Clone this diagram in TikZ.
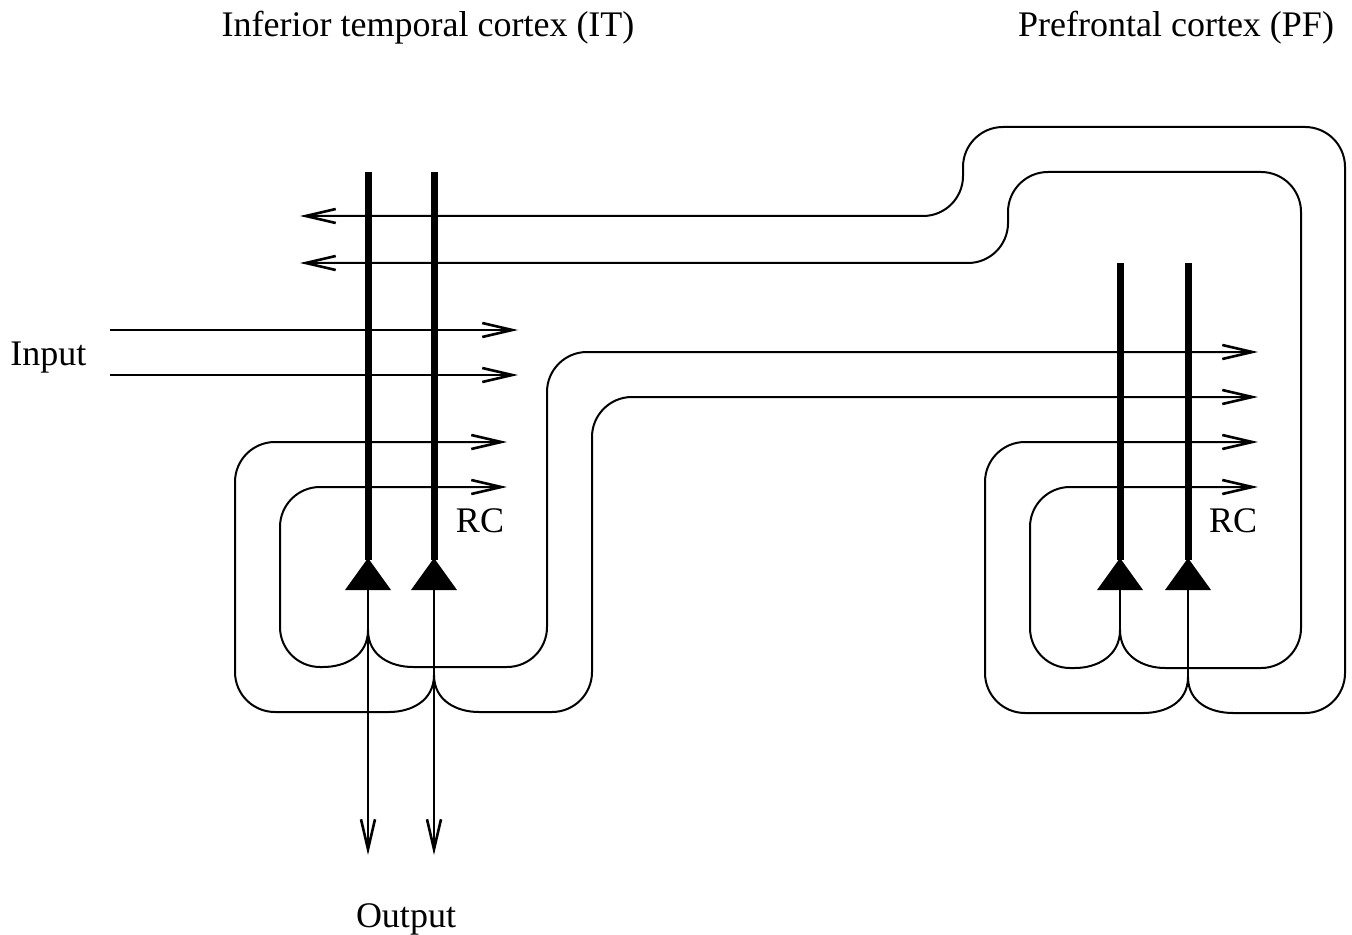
\documentclass[tikz,border=0pt]{standalone}
\usepackage{fontspec}
\setmainfont{Liberation Serif}
\usetikzlibrary{arrows.meta,calc}
\begin{document}
\begin{tikzpicture}[x=0.5pt,y=-0.5pt,
  fiber/.style={line width=1pt},
  arr/.style={fiber,-{Straight Barb[length=15pt,width=7pt,line width=1.3pt]}},
  dendrite/.style={line width=3.5pt},
  soma/.style={fill=black},
  lbl/.style={font=\fontsize{18pt}{20pt}\selectfont, inner sep=0pt},
  rc/.style={rounded corners=20pt}]
\useasboundingbox (0,0) rectangle (1352,935);

% labels
\node[lbl, anchor=base] (titIT) at (428,37) {Inferior temporal cortex (IT)};
\node[lbl, anchor=base] (titPF) at (1176,37) {Prefrontal cortex (PF)};
\node[lbl, anchor=base west] (inp) at (10,365) {Input};
\node[lbl, anchor=base] (outp) at (406,927) {Output};
\node[lbl, anchor=base] (rcIT) at (480,532) {RC};
\node[lbl, anchor=base] (rcPF) at (1233,532) {RC};

% neuron coordinates (soma base centre)
\coordinate (ITa) at (368,590);
\coordinate (ITb) at (434,590);
\coordinate (PFa) at (1120,590);
\coordinate (PFb) at (1188,590);
% dendrite tops
\coordinate (ITaTop) at (368,172);
\coordinate (ITbTop) at (434,172);
\coordinate (PFaTop) at (1120,263);
\coordinate (PFbTop) at (1188,263);
% branch points
\coordinate (ITaBr) at (368,630);
\coordinate (ITbBr) at (434,675);
\coordinate (PFaBr) at (1120,630);
\coordinate (PFbBr) at (1188,677);
% output ends
\coordinate (outA) at (368,855);
\coordinate (outB) at (434,855);
% input
\coordinate (in1s) at (110,330);
\coordinate (in1e) at (518,330);
\coordinate (in2s) at (110,375);
\coordinate (in2e) at (518,375);
% arrow ends
\coordinate (itR1) at (507,442);
\coordinate (itR2) at (507,487);
\coordinate (pf1) at (1258,352);
\coordinate (pf2) at (1258,397);
\coordinate (pf3) at (1258,442);
\coordinate (pf4) at (1258,487);
\coordinate (back1) at (300,216);
\coordinate (back2) at (300,263);

% dendrites
\foreach \n in {ITa,ITb,PFa,PFb}{
  \draw[dendrite] (\n Top) -- ($(\n)+(0,-30)$);
}

% input fibres
\draw[arr] (in1s) -- (in1e);
\draw[arr] (in2s) -- (in2e);

% IT neuron a
\draw[fiber] (ITa) -- (ITaBr);
\draw[arr] (ITaBr) -- (outA);
\draw[arr] (ITaBr) .. controls +(0,26) and +(22,0) .. ++(-45,37)
  [rc] -- (280,667) -- (280,487) -- (itR2);
\draw[arr] (ITaBr) .. controls +(0,26) and +(-22,0) .. ++(45,37)
  [rc] -- (547,667) -- (547,352) -- (pf1);

% IT neuron b
\draw[fiber] (ITb) -- (ITbBr);
\draw[arr] (ITbBr) -- (outB);
\draw[arr] (ITbBr) .. controls +(0,26) and +(22,0) .. ++(-45,37)
  [rc] -- (235,712) -- (235,442) -- (itR1);
\draw[arr] (ITbBr) .. controls +(0,26) and +(-22,0) .. ++(45,37)
  [rc] -- (592,712) -- (592,397) -- (pf2);

% PF neuron a
\draw[fiber] (PFa) -- (PFaBr);
\draw[arr] (PFaBr) .. controls +(0,26) and +(22,0) .. ++(-45,38)
  [rc] -- (1030,668) -- (1030,487) -- (pf4);
\draw[arr] (PFaBr) .. controls +(0,26) and +(-22,0) .. ++(45,38)
  [rc] -- (1301,668) -- (1301,172) -- (1008,172) -- (1008,263) -- (back2);

% PF neuron b
\draw[fiber] (PFb) -- (PFbBr);
\draw[arr] (PFbBr) .. controls +(0,26) and +(22,0) .. ++(-45,36)
  [rc] -- (985,713) -- (985,442) -- (pf3);
\draw[arr] (PFbBr) .. controls +(0,26) and +(-22,0) .. ++(45,36)
  [rc] -- (1345,713) -- (1345,127) -- (963,127) -- (963,216) -- (back1);

% somata
\foreach \n in {ITa,ITb,PFa,PFb}{
  \fill[soma] ($(\n)+(-23,0)$) -- ($(\n)+(23,0)$) -- ($(\n)+(0,-32)$) -- cycle;
}
\end{tikzpicture}
\end{document}
